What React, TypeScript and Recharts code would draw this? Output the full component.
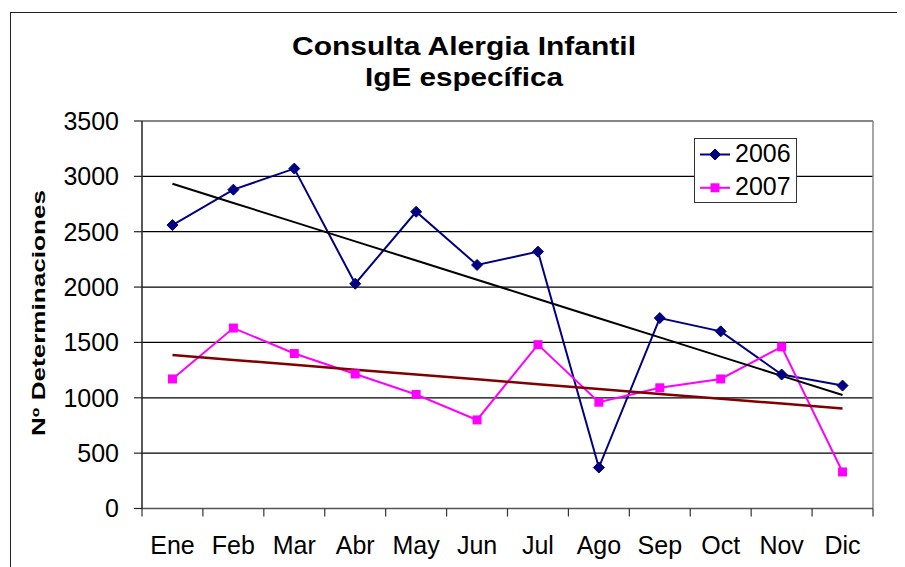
import React from 'react';
import { LineChart, Line, XAxis, YAxis, CartesianGrid, Legend, ReferenceLine } from 'recharts';

const months = ['Ene', 'Feb', 'Mar', 'Abr', 'May', 'Jun', 'Jul', 'Ago', 'Sep', 'Oct', 'Nov', 'Dic'];
const values2006 = [2560, 2880, 3070, 2030, 2680, 2200, 2320, 370, 1720, 1600, 1210, 1110];
const values2007 = [1170, 1630, 1400, 1215, 1030, 800, 1480, 960, 1090, 1170, 1460, 330];
const yTicks = [0, 500, 1000, 1500, 2000, 2500, 3000, 3500];
const seriesNames = ['2006', '2007'];
const titleLines = ['Consulta Alergia Infantil', 'IgE específica'];
const yTitle = 'Nº Determinaciones';

const COL_2006 = '#000080';
const COL_2007 = '#FF00FF';
const COL_T2006 = '#000000';
const COL_T2007 = '#800000';

const W = 897;
const H = 559;
const MARGIN = { top: 113, right: 32, left: 0, bottom: 8.5 };
const YAXIS_W = 134;
const XAXIS_H = 50;
const PLOT_W = W - MARGIN.left - MARGIN.right - YAXIS_W;
const STEP = PLOT_W / months.length;
const FONT = '"Liberation Sans", Arial, sans-serif';

function linearTrend(vals: number[]): number[] {
  const n = vals.length;
  const xs = vals.map((_, i) => i + 1);
  const mx = xs.reduce((a, b) => a + b, 0) / n;
  const my = vals.reduce((a, b) => a + b, 0) / n;
  let num = 0;
  let den = 0;
  for (let i = 0; i < n; i++) {
    num += (xs[i] - mx) * (vals[i] - my);
    den += (xs[i] - mx) * (xs[i] - mx);
  }
  const slope = num / den;
  return xs.map((x) => my + slope * (x - mx));
}

const trend2006 = linearTrend(values2006);
const trend2007 = linearTrend(values2007);

const data = months.map((m, i) => ({
  month: m,
  v2006: values2006[i],
  v2007: values2007[i],
  t2006: trend2006[i],
  t2007: trend2007[i],
}));

const Diamond = (props: any) => {
  const { cx, cy } = props;
  if (cx == null || cy == null) return null;
  const r = 5.5;
  return (
    <polygon
      points={`${cx},${cy - r} ${cx + r},${cy} ${cx},${cy + r} ${cx - r},${cy}`}
      fill={COL_2006}
      stroke={COL_2006}
      strokeWidth={1}
    />
  );
};

const Square = (props: any) => {
  const { cx, cy } = props;
  if (cx == null || cy == null) return null;
  const s = 9;
  return <rect x={cx - s / 2} y={cy - s / 2} width={s} height={s} fill={COL_2007} />;
};

const MonthTick = (props: any) => {
  const { x, y, payload, index } = props;
  const last = index === months.length - 1;
  return (
    <g>
      <line x1={x - STEP / 2} x2={x - STEP / 2} y1={y} y2={y + 8} stroke="#333" strokeWidth={1.2} />
      {last && <line x1={x + STEP / 2} x2={x + STEP / 2} y1={y} y2={y + 8} stroke="#333" strokeWidth={1.2} />}
      <text x={x} y={y + 45.5} textAnchor="middle" fontSize={25} fill="#000" fontFamily={FONT}>
        {payload.value}
      </text>
    </g>
  );
};

const LegendBox = () => {
  const cols = [COL_2006, COL_2007];
  return (
    <div
      style={{
        width: 103,
        height: 65,
        boxSizing: 'border-box',
        border: '1.5px solid #333',
        background: '#fff',
      }}
    >
      <svg width={100} height={62} style={{ display: 'block' }}>
        {seriesNames.map((name, i) => {
          const ly = 15.5 + i * 33.3;
          return (
            <g key={name}>
              <line x1={5} x2={35} y1={ly} y2={ly} stroke={cols[i]} strokeWidth={2} />
              {i === 0 ? (
                <Diamond cx={20} cy={ly} />
              ) : (
                <Square cx={20} cy={ly} />
              )}
              <text x={40} y={ly + 7} fontSize={25} fill="#000" fontFamily={FONT}>
                {name}
              </text>
            </g>
          );
        })}
      </svg>
    </div>
  );
};

export default function App() {
  return (
    <div style={{ position: 'relative', width: W, height: H, overflow: 'hidden', fontFamily: FONT, background: '#fff' }}>
      <div
        style={{
          position: 'absolute',
          left: 2,
          top: 4,
          width: 1200,
          height: 1200,
          borderTop: '1.5px solid #222',
          borderLeft: '1.5px solid #222',
        }}
      />
      <LineChart width={W} height={H} data={data} margin={MARGIN}>
        <CartesianGrid vertical={false} stroke="#000" strokeWidth={1.2} />
        <CartesianGrid
          horizontal={false}
          stroke="#888"
          strokeWidth={1.5}
          verticalCoordinatesGenerator={({ offset }: any) => [offset.left + offset.width]}
        />
        <ReferenceLine y={3500} stroke="#888" strokeWidth={1.5} />
        <XAxis
          dataKey="month"
          height={XAXIS_H}
          interval={0}
          padding={{ left: STEP / 2, right: STEP / 2 }}
          tickLine={false}
          tickSize={0}
          tickMargin={0}
          axisLine={{ stroke: '#555', strokeWidth: 1.5 }}
          tick={<MonthTick />}
        />
        <YAxis
          width={YAXIS_W}
          domain={[0, 3500]}
          ticks={yTicks}
          interval={0}
          tickSize={8}
          tickMargin={15}
          axisLine={{ stroke: '#222', strokeWidth: 1.5 }}
          tickLine={{ stroke: '#222', strokeWidth: 1.2 }}
          tick={{ fontSize: 25, fill: '#000', fontFamily: FONT }}
        />
        <Legend
          layout="vertical"
          align="center"
          verticalAlign="middle"
          wrapperStyle={{ left: 686, top: 130, width: 103, height: 65 }}
          content={<LegendBox />}
        />
        <Line
          type="linear"
          dataKey="v2006"
          name={seriesNames[0]}
          stroke={COL_2006}
          strokeWidth={2}
          dot={<Diamond />}
          activeDot={false}
          isAnimationActive={false}
        />
        <Line
          type="linear"
          dataKey="v2007"
          name={seriesNames[1]}
          stroke={COL_2007}
          strokeWidth={2}
          dot={<Square />}
          activeDot={false}
          isAnimationActive={false}
        />
        <Line
          type="linear"
          dataKey="t2006"
          stroke={COL_T2006}
          strokeWidth={2}
          dot={false}
          activeDot={false}
          legendType="none"
          isAnimationActive={false}
        />
        <Line
          type="linear"
          dataKey="t2007"
          stroke={COL_T2007}
          strokeWidth={2.5}
          dot={false}
          activeDot={false}
          legendType="none"
          isAnimationActive={false}
        />
      </LineChart>
      <svg
        width={W}
        height={H}
        style={{ position: 'absolute', left: 0, top: 0, pointerEvents: 'none' }}
      >
        {titleLines.map((t, i) => (
          <text
            key={t}
            x={456}
            y={47 + i * 31}
            textAnchor="middle"
            fontSize={25}
            fontWeight="bold"
            fontFamily={FONT}
            fill="#000"
            textLength={i === 0 ? 344 : 198}
            lengthAdjust="spacingAndGlyphs"
          >
            {t}
          </text>
        ))}
        <text
          transform="translate(36.5,305) rotate(-90)"
          textAnchor="middle"
          fontSize={18}
          fontWeight="bold"
          fontFamily={FONT}
          fill="#000"
          textLength={246}
          lengthAdjust="spacingAndGlyphs"
        >
          {yTitle}
        </text>
      </svg>
    </div>
  );
}
